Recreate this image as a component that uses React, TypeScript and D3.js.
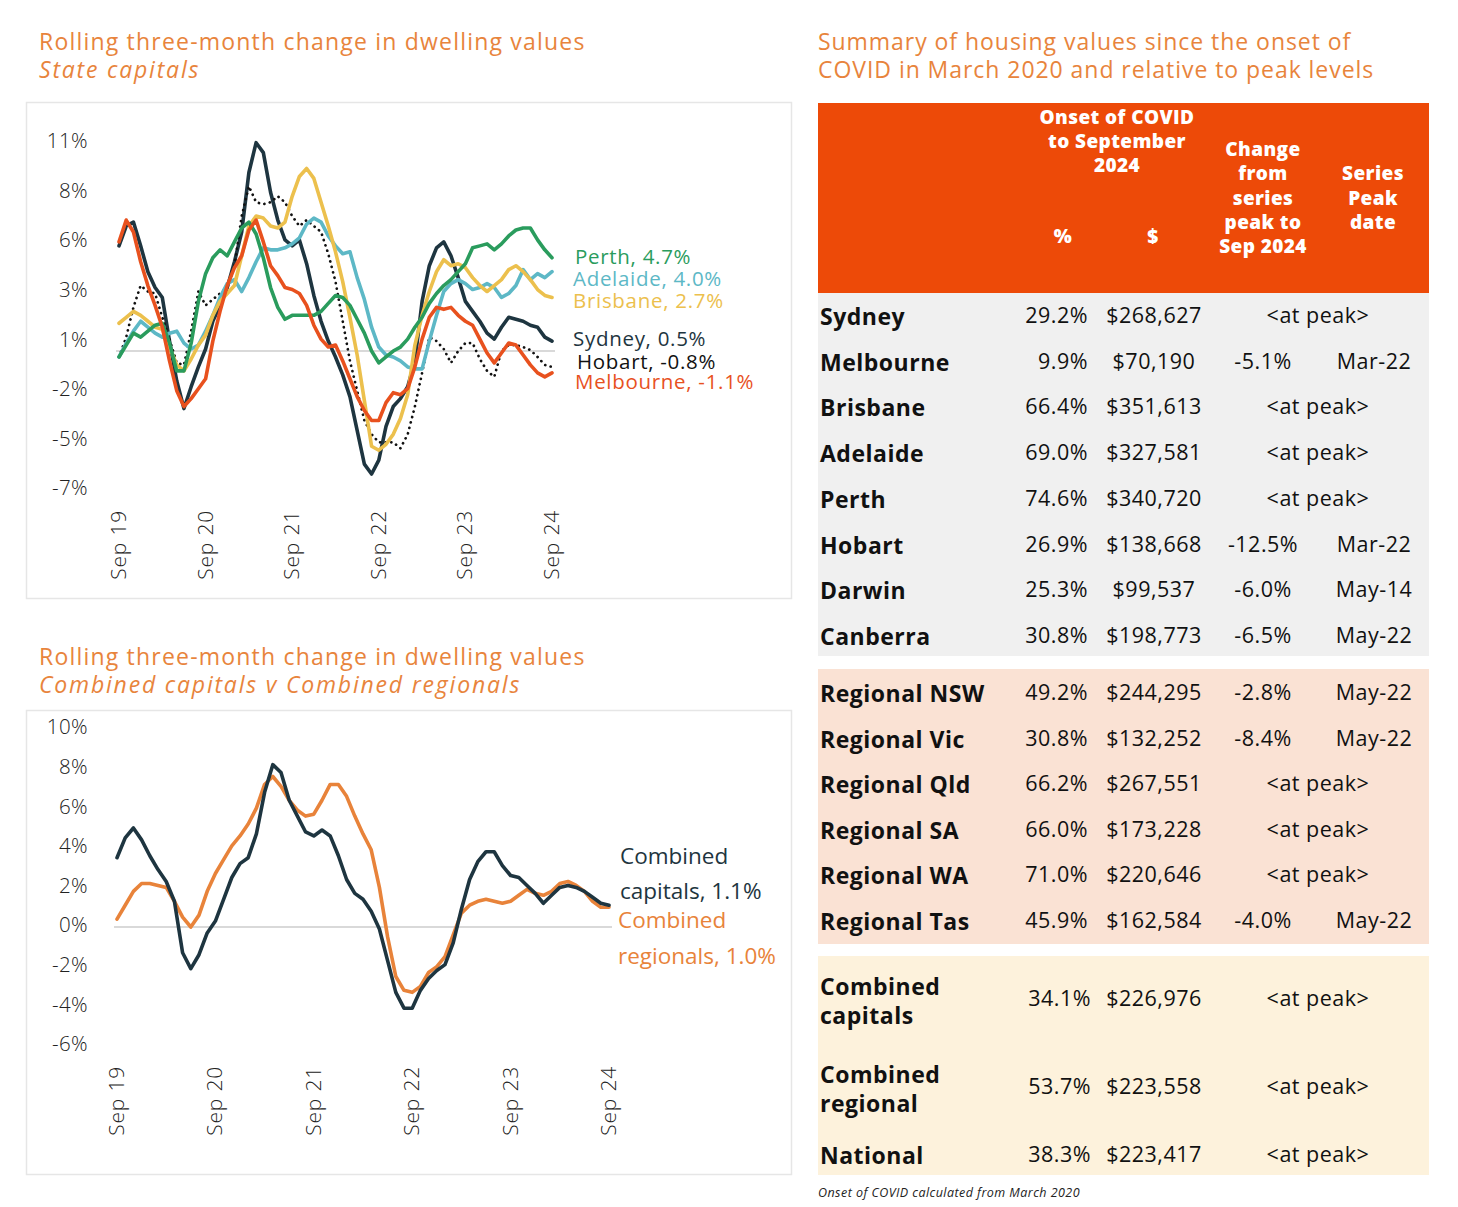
import { scaleLinear, line as d3line } from "d3";

const FONT = "'Open Sans', sans-serif";
const ORANGE_TITLE = "#e8843c";

// ---- top chart: state capitals, monthly Sep 19 .. Sep 24 (61 points)
const sydney = [5.3, 6.3, 6.5, 5.3, 4.0, 3.2, 2.7, 0.5, -1.5, -2.9, -1.8, -0.8, 0.1, 1.5, 2.3, 3.2, 4.5, 6.0, 9.0, 10.5, 10.0, 8.0, 6.6, 5.6, 5.3, 5.6, 4.4, 2.8, 1.5, 0.5, -0.3, -1.2, -2.3, -4.0, -5.7, -6.2, -5.5, -3.8, -2.8, -2.4, -1.8, -0.5, 2.5, 4.3, 5.2, 5.5, 4.8, 3.7, 2.5, 2.0, 1.5, 0.9, 0.6, 1.2, 1.7, 1.6, 1.5, 1.3, 1.2, 0.7, 0.5];
const melbourne = [5.5, 6.6, 6.0, 4.5, 3.3, 2.3, 1.2, -0.5, -2.0, -2.8, -2.4, -1.9, -1.4, 0.5, 2.0, 3.3, 4.2, 4.8, 6.1, 6.6, 5.5, 4.3, 3.8, 3.2, 3.1, 2.9, 2.3, 1.3, 0.6, 0.2, 0.3, -0.5, -1.4, -2.3, -3.0, -3.5, -3.5, -2.6, -2.1, -2.2, -1.9, -0.8, 0.6, 1.7, 2.2, 2.1, 2.2, 1.8, 1.5, 1.3, 0.6, -0.1, -0.6, -0.1, 0.4, 0.3, -0.2, -0.7, -1.1, -1.3, -1.1];
const brisbane = [1.4, 1.7, 2.0, 1.8, 1.5, 1.2, 1.1, 0.2, -0.7, -1.0, -0.4, 0.3, 0.8, 1.8, 2.5, 2.9, 3.3, 4.8, 6.3, 6.8, 6.7, 6.3, 6.2, 6.5, 7.8, 8.8, 9.2, 8.7, 7.5, 6.3, 5.0, 3.5, 1.7, -0.2, -2.5, -4.8, -5.0, -4.7, -4.2, -3.4, -2.2, 0.3, 1.8, 3.0, 4.0, 4.6, 4.3, 4.4, 4.2, 3.7, 3.3, 3.0, 3.3, 3.6, 4.1, 4.3, 4.0, 3.6, 3.1, 2.8, 2.7];
const adelaide = [-0.3, 0.4, 1.0, 1.5, 1.2, 0.9, 0.7, 0.9, 1.0, 0.4, 0.1, 0.3, 1.0, 1.8, 2.7, 3.4, 3.6, 3.0, 3.7, 4.5, 5.2, 5.1, 5.1, 5.2, 5.4, 5.7, 6.4, 6.7, 6.5, 5.8, 5.3, 4.9, 5.0, 3.7, 2.6, 1.2, 0.2, -0.2, -0.3, -0.5, -0.8, -0.9, -0.9, 0.5, 1.8, 3.0, 3.4, 3.6, 3.4, 3.1, 3.2, 3.4, 3.2, 2.7, 2.9, 3.3, 4.1, 3.6, 3.9, 3.7, 4.0];
const perth = [-0.3, 0.3, 0.9, 0.7, 1.0, 1.3, 1.4, 0.4, -1.0, -1.0, 0.4, 2.5, 3.9, 4.7, 5.1, 4.8, 5.5, 6.2, 6.5, 5.9, 4.7, 3.2, 2.2, 1.6, 1.8, 1.8, 1.8, 1.8, 2.0, 2.4, 2.8, 2.7, 2.3, 1.6, 0.9, 0.0, -0.6, -0.3, 0.0, 0.2, 0.6, 1.2, 1.7, 2.4, 2.9, 3.3, 3.6, 4.0, 4.4, 5.2, 5.3, 5.4, 5.1, 5.4, 5.8, 6.1, 6.2, 6.2, 5.6, 5.1, 4.7];
const hobart = [-0.3, 0.7, 2.2, 3.3, 3.0, 2.9, 1.7, 0.6, -0.6, -0.7, 1.0, 3.0, 2.3, 2.6, 2.9, 3.2, 4.3, 6.8, 8.3, 7.5, 7.4, 7.5, 7.8, 7.5, 6.8, 6.3, 6.6, 6.3, 6.0, 4.9, 3.5, 1.5, -0.5, -2.0, -3.5, -4.2, -4.6, -4.6, -4.6, -4.9, -4.2, -2.8, -1.1, 0.7, 0.5, 0.1, -0.6, 0.0, 0.4, 0.4, -0.4, -1.0, -1.3, 0.0, 0.3, 0.3, 0.2, 0.05, -0.3, -0.7, -0.8];

const topSeries = [
  { name: "Sydney", values: sydney, color: "#1e3540", dash: false },
  { name: "Hobart", values: hobart, color: "#111111", dash: true },
  { name: "Adelaide", values: adelaide, color: "#5db8c6", dash: false },
  { name: "Brisbane", values: brisbane, color: "#ecc04d", dash: false },
  { name: "Perth", values: perth, color: "#2a9c5d", dash: false },
  { name: "Melbourne", values: melbourne, color: "#e8511e", dash: false },
];
const topLabels = [
  { text: "Perth, 4.7%", color: "#2a9c5d", x: 575, y: 264 },
  { text: "Adelaide, 4.0%", color: "#5db8c6", x: 573, y: 286 },
  { text: "Brisbane, 2.7%", color: "#ecc04d", x: 573, y: 308 },
  { text: "Sydney, 0.5%", color: "#1e3540", x: 573, y: 346 },
  { text: "Hobart, -0.8%", color: "#111111", x: 577, y: 369 },
  { text: "Melbourne, -1.1%", color: "#e8511e", x: 575, y: 389 },
];
const topYTicks = [10.5, 8, 5.5, 3, 0.5, -2, -4.5, -7];
const topYLabels = ["11%", "8%", "6%", "3%", "1%", "-2%", "-5%", "-7%"];

// ---- bottom chart: combined capitals v combined regionals
const capitals = [3.5, 4.5, 5.0, 4.4, 3.6, 2.9, 2.3, 1.3, -1.3, -2.1, -1.4, -0.3, 0.3, 1.4, 2.5, 3.2, 3.5, 4.7, 6.8, 8.2, 7.8, 6.4, 5.6, 4.8, 4.6, 4.9, 4.6, 3.6, 2.4, 1.7, 1.4, 0.8, -0.1, -1.7, -3.3, -4.1, -4.1, -3.2, -2.6, -2.2, -1.9, -0.8, 0.9, 2.4, 3.3, 3.8, 3.8, 3.1, 2.6, 2.5, 2.1, 1.7, 1.2, 1.6, 2.0, 2.1, 2.0, 1.8, 1.5, 1.2, 1.1];
const regionals = [0.4, 1.1, 1.8, 2.2, 2.2, 2.1, 2.0, 1.3, 0.5, 0.0, 0.6, 1.8, 2.7, 3.4, 4.1, 4.6, 5.2, 6.0, 7.2, 7.6, 7.1, 6.4, 5.9, 5.6, 5.7, 6.4, 7.2, 7.2, 6.6, 5.6, 4.7, 3.9, 2.0, -0.5, -2.5, -3.2, -3.3, -3.0, -2.3, -2.0, -1.5, -0.4, 0.7, 1.1, 1.3, 1.4, 1.3, 1.2, 1.3, 1.6, 1.9, 1.7, 1.6, 1.8, 2.2, 2.3, 2.1, 1.8, 1.3, 1.0, 1.0];
const botYTicks = [10, 8, 6, 4, 2, 0, -2, -4, -6];
const botYLabels = ["10%", "8%", "6%", "4%", "2%", "0%", "-2%", "-4%", "-6%"];

const xTickIdx = [0, 12, 24, 36, 48, 60];
const xTickLabels = ["Sep 19", "Sep 20", "Sep 21", "Sep 22", "Sep 23", "Sep 24"];

// ---- table
const groupA = ["Sydney", "Melbourne", "Brisbane", "Adelaide", "Perth", "Hobart", "Darwin", "Canberra"];
const groupAPct = ["29.2%", "9.9%", "66.4%", "69.0%", "74.6%", "26.9%", "25.3%", "30.8%"];
const groupAUsd = ["$268,627", "$70,190", "$351,613", "$327,581", "$340,720", "$138,668", "$99,537", "$198,773"];
const groupAChg = ["", "-5.1%", "", "", "", "-12.5%", "-6.0%", "-6.5%"];
const groupADate = ["", "Mar-22", "", "", "", "Mar-22", "May-14", "May-22"];

const groupB = ["Regional NSW", "Regional Vic", "Regional Qld", "Regional SA", "Regional WA", "Regional Tas"];
const groupBPct = ["49.2%", "30.8%", "66.2%", "66.0%", "71.0%", "45.9%"];
const groupBUsd = ["$244,295", "$132,252", "$267,551", "$173,228", "$220,646", "$162,584"];
const groupBChg = ["-2.8%", "-8.4%", "", "", "", "-4.0%"];
const groupBDate = ["May-22", "May-22", "", "", "", "May-22"];

const groupC = [["Combined", "capitals"], ["Combined", "regional"], ["National"]];
const groupCPct = ["34.1%", "53.7%", "38.3%"];
const groupCUsd = ["$226,976", "$223,558", "$223,417"];

function LineChart({ series, yDomain, yRange, xRange, yTicks, yLabels, xLabelY, strokeW }: any) {
  const x = scaleLinear().domain([0, 60]).range(xRange);
  const y = scaleLinear().domain(yDomain).range(yRange);
  const gen = d3line<number>().x((_, i) => x(i)).y(d => y(d));
  return (
    <g>
      <line x1={xRange[0] - 3} x2={xRange[1] + 3} y1={y(0)} y2={y(0)} stroke="#d9d9d9" strokeWidth={2} />
      {yTicks.map((t: number, i: number) => (
        <text key={t} x={88} y={y(t)} textAnchor="end" dominantBaseline="middle" fontSize={20.5} letterSpacing={0.4} fill="#222" fontFamily={FONT} fontWeight={300}>{yLabels[i]}</text>
      ))}
      {xTickIdx.map((t, i) => (
        <text key={t} transform={`translate(${x(t) + 7},${xLabelY}) rotate(-90)`} textAnchor="end" fontSize={21} letterSpacing={0.8} fill="#222" fontFamily={FONT} fontWeight={300}>{xTickLabels[i]}</text>
      ))}
      {series.map((s: any) => (
        <path key={s.name} d={gen(s.values) ?? ""} fill="none" stroke={s.color}
          strokeWidth={s.dash ? 2.7 : strokeW} strokeLinejoin="round"
          strokeLinecap="round" strokeDasharray={s.dash ? "0.1 5.5" : undefined} />
      ))}
    </g>
  );
}

export default function App() {
  const rowH = 45.7;
  const tx = { label: 820, pct: 1088, usd: 1154, chg: 1263, date: 1374, peak: 1318 };
  const valStyle = { fontSize: 21.5, letterSpacing: 0.5, fill: "#111", fontFamily: FONT, fontWeight: 400 } as const;
  const lblStyle = { fontSize: 23, letterSpacing: 0.5, fill: "#111", fontFamily: FONT, fontWeight: 700 } as const;
  const hdrStyle = { fontSize: 19, letterSpacing: 0.4, fill: "#fff", fontFamily: FONT, fontWeight: 800, textAnchor: "middle" } as const;
  const titleStyle = { fontSize: 23, letterSpacing: 1.2, fill: ORANGE_TITLE, fontFamily: FONT } as const;
  const subStyle = { fontSize: 23, letterSpacing: 1.8, fill: ORANGE_TITLE, fontFamily: FONT, fontStyle: "italic" } as const;
  const rightTitle = { ...titleStyle, letterSpacing: 0.95 } as const;

  const rowsA = groupA.map((n, i) => ({ n, pct: groupAPct[i], usd: groupAUsd[i], chg: groupAChg[i], date: groupADate[i], y: 325 + i * rowH }));
  const rowsB = groupB.map((n, i) => ({ n, pct: groupBPct[i], usd: groupBUsd[i], chg: groupBChg[i], date: groupBDate[i], y: 702 + i * 45.6 }));
  const cY = [1006, 1094, 1162];

  return (
    <svg width={1458} height={1207} style={{ position: "absolute", left: 0, top: 0, background: "#fff" }}>
      {/* titles */}
      <text x={39} y={50} {...titleStyle}>Rolling three-month change in dwelling values</text>
      <text x={39} y={78} {...subStyle}>State capitals</text>
      <text x={39} y={665} {...titleStyle}>Rolling three-month change in dwelling values</text>
      <text x={39} y={693} {...subStyle}>Combined capitals v Combined regionals</text>
      <text x={818} y={50} {...rightTitle}>Summary of housing values since the onset of</text>
      <text x={818} y={78} {...rightTitle}>COVID in March 2020 and relative to peak levels</text>

      {/* panels */}
      <rect x={26.5} y={102.5} width={765} height={496} fill="none" stroke="#e6e6e6" strokeWidth={1.5} />
      <rect x={26.5} y={710.5} width={765} height={464} fill="none" stroke="#e6e6e6" strokeWidth={1.5} />

      <LineChart series={topSeries} yDomain={[-7, 10.5]} yRange={[489.9, 142.7]} xRange={[119, 552]}
        yTicks={topYTicks} yLabels={topYLabels} xLabelY={510} strokeW={3.6} />
      {topLabels.map(l => (
        <text key={l.text} x={l.x} y={l.y} fontSize={20.5} letterSpacing={0.7} fill={l.color} fontFamily={FONT}>{l.text}</text>
      ))}

      <LineChart series={[
        { name: "Regionals", values: regionals, color: "#e8833a", dash: false },
        { name: "Capitals", values: capitals, color: "#1e3540", dash: false },
      ]} yDomain={[-6, 10]} yRange={[1045.8, 729]} xRange={[117, 609]}
        yTicks={botYTicks} yLabels={botYLabels} xLabelY={1066} strokeW={3.6} />
      <text x={620} y={864} fontSize={22.5} fill="#1e3540" fontFamily={FONT}>Combined</text>
      <text x={620} y={899} fontSize={22.5} fill="#1e3540" fontFamily={FONT}>capitals, 1.1%</text>
      <text x={618} y={928} fontSize={22.5} fill="#e8833a" fontFamily={FONT}>Combined</text>
      <text x={618} y={964} fontSize={22.5} fill="#e8833a" fontFamily={FONT}>regionals, 1.0%</text>

      {/* table backgrounds */}
      <rect x={818} y={103} width={611} height={190} fill="#ed4a08" />
      <rect x={818} y={293} width={611} height={363} fill="#f0f0f0" />
      <rect x={818} y={669} width={611} height={275} fill="#fae2d4" />
      <rect x={818} y={956} width={611} height={219} fill="#fdf2dc" />

      {/* header */}
      <text x={1117} y={124} {...hdrStyle}>Onset of COVID</text>
      <text x={1117} y={148} {...hdrStyle}>to September</text>
      <text x={1117} y={172} {...hdrStyle}>2024</text>
      <text x={1063} y={243} {...hdrStyle}>%</text>
      <text x={1153} y={243} {...hdrStyle}>$</text>
      {["Change", "from", "series", "peak to", "Sep 2024"].map((t, i) => (
        <text key={t} x={1263} y={156 + i * 24.3} {...hdrStyle}>{t}</text>
      ))}
      {["Series", "Peak", "date"].map((t, i) => (
        <text key={t} x={1373} y={180 + i * 24.5} {...hdrStyle}>{t}</text>
      ))}

      {[...rowsA, ...rowsB].map(r => (
        <g key={r.n}>
          <text x={tx.label} y={r.y} {...lblStyle}>{r.n}</text>
          <text x={tx.pct} y={r.y - 2} textAnchor="end" {...valStyle}>{r.pct}</text>
          <text x={tx.usd} y={r.y - 2} textAnchor="middle" {...valStyle}>{r.usd}</text>
          {r.chg ? (
            <>
              <text x={tx.chg} y={r.y - 2} textAnchor="middle" {...valStyle}>{r.chg}</text>
              <text x={tx.date} y={r.y - 2} textAnchor="middle" {...valStyle}>{r.date}</text>
            </>
          ) : (
            <text x={tx.peak} y={r.y - 2} textAnchor="middle" {...valStyle}>{"<at peak>"}</text>
          )}
        </g>
      ))}

      {groupC.map((lines, i) => (
        <g key={lines.join(" ")}>
          {lines.map((t, j) => (
            <text key={t} x={tx.label} y={lines.length > 1 ? cY[i] - 11 + j * 29 : cY[i] + 2} {...lblStyle}>{t}</text>
          ))}
          <text x={tx.pct + 3} y={cY[i]} textAnchor="end" {...valStyle}>{groupCPct[i]}</text>
          <text x={tx.usd} y={cY[i]} textAnchor="middle" {...valStyle}>{groupCUsd[i]}</text>
          <text x={tx.peak} y={cY[i]} textAnchor="middle" {...valStyle}>{"<at peak>"}</text>
        </g>
      ))}

      <text x={818} y={1197} fontSize={12.5} letterSpacing={0.45} fill="#222" fontFamily={FONT} fontStyle="italic">Onset of COVID calculated from March 2020</text>
    </svg>
  );
}
